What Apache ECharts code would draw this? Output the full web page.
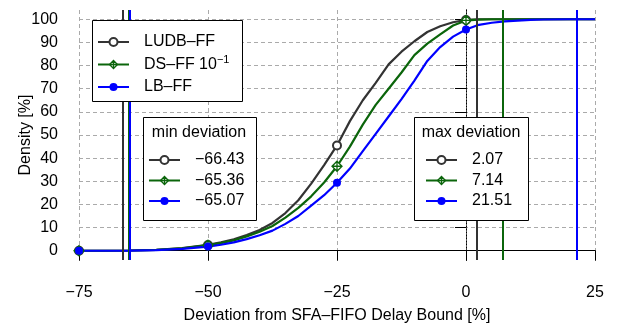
<!DOCTYPE html>
<html>
<head>
<meta charset="utf-8">
<script src="https://cdn.jsdelivr.net/npm/echarts@6/dist/echarts.min.js"></script>
<style>
  html, body { margin: 0; padding: 0; background: #fff; }
  #chart { width: 617px; height: 327px; }
</style>
</head>
<body>
<div id="chart"></div>
<script>
// deviation [%] sample points shared by the three curves
const xValues = [-75, -70, -65, -60, -55, -50, -47.5, -45, -42.5, -40, -37.5, -35, -32.5, -30, -27.5,
  -25, -22.5, -20, -17.5, -15, -12.5, -10, -7.5, -5, -2.5, 0, 2.5, 5, 7.5, 10, 12.5, 15, 20, 25];
const ludbFF = [0, 0, 0.1, 0.4, 1.1, 2.5, 3.6, 4.9, 6.8, 9.0, 12, 16.3, 21.8, 29, 37,
  45.5, 56, 65, 72.5, 80.5, 86, 90.5, 94.5, 97, 98.7, 99.7, 100, 100, 100, 100, 100, 100, 100, 100];
const dsFF = [0, 0, 0.1, 0.4, 1.0, 2.4, 3.3, 4.5, 6.2, 8.2, 10.7, 14.3, 18.5, 23.5, 29.5,
  36.5, 45, 54.5, 63, 70, 77, 84.5, 89.5, 93.5, 97.3, 99.5, 99.8, 100, 100, 100, 100, 100, 100, 100];
const lbFF = [0, 0, 0.05, 0.3, 0.8, 1.8, 2.6, 3.6, 5.0, 6.7, 8.7, 11.6, 15, 19.5, 24,
  29.4, 35.5, 43, 50.5, 58, 65.5, 73.5, 82, 88, 92.5, 95.6, 97.6, 98.5, 99.1, 99.4, 99.7, 99.9, 100, 100];
const markerX = [-75, -50, -25, 0];

const minDeviation = [-66.43, -65.36, -65.07];
const maxDeviation = [2.07, 7.14, 21.51];

const yTicks = [0, 10, 20, 30, 40, 50, 60, 70, 80, 90, 100];

const FONT = 'Liberation Sans, Arial, sans-serif';
const BLACK = '#333333';
const GREEN = '#0b650b';
const BLUE = '#0000ff';
const minus = v => String(v).replace('-', '\u2212');

const styles = [
  { name: 'LUDB–FF', values: ludbFF, color: BLACK, symbol: 'emptyCircle', size: 8,
    itemStyle: { color: BLACK } },
  { name: 'DS–FF', values: dsFF, color: GREEN,
    symbol: 'path://M10,0 L20,10 L10,20 L0,10 Z M10,0 L10,20 M0,10 L20,10', size: 10,
    itemStyle: { color: '#fff', borderColor: GREEN, borderWidth: 1.3 } },
  { name: 'LB–FF', values: lbFF, color: BLUE, symbol: 'circle', size: 8,
    itemStyle: { color: BLUE } }
];

function points(values) {
  return xValues.map((x, i) => markerX.includes(x) ? [x, values[i]] : { value: [x, values[i]], symbol: 'none' });
}

const series = [];
styles.forEach(s => {
  series.push({
    name: s.name, type: 'line', data: points(s.values),
    symbol: s.symbol, symbolSize: s.size, showAllSymbol: true,
    lineStyle: { color: s.color, width: 2.2 }, itemStyle: s.itemStyle,
    z: 3
  });
});
function vline(values, suffix) {
  values.forEach((v, i) => {
    const s = styles[i];
    series.push({
      name: minus(v.toFixed(2)) + suffix, type: 'line', data: [],
      symbol: s.symbol, symbolSize: s.size,
      lineStyle: { color: s.color, width: 2.2 }, itemStyle: s.itemStyle,
      markLine: {
        silent: true, symbol: 'none', label: { show: false },
        lineStyle: { color: s.color, type: 'solid', width: 2 },
        data: [{ xAxis: v }]
      },
      z: 2
    });
  });
}
vline(minDeviation, '');
vline(maxDeviation, ' ');

// legend entries carry the marker style explicitly (hollow diamond for DS-FF)
function legendItems(names) {
  return names.map((n, i) => ({ name: n, itemStyle: Object.assign({}, styles[i].itemStyle) }));
}

const legendBase = {
  orient: 'vertical', padding: 0, itemWidth: 31, itemHeight: 10, itemGap: 4.5,
  selectedMode: false, z: 60,
  textStyle: { fontFamily: FONT, fontSize: 16, color: '#000', lineHeight: 16, padding: [0, 0, 0, 10],
    rich: {
      t: { fontFamily: FONT, fontSize: 16, color: '#000', lineHeight: 16 },
      s: { fontFamily: FONT, fontSize: 11, color: '#000', lineHeight: 16, padding: [0, 0, 9, 0] }
    } }
};

const chart = echarts.init(document.getElementById('chart'));
chart.setOption({
  animation: false,
  textStyle: { fontFamily: FONT },
  grid: { left: 79, right: 22, top: 10, bottom: 67, outerBoundsMode: 'none', containLabel: false },
  xAxis: [{
    type: 'value', min: -75, max: 25, interval: 25,
    name: 'Deviation from SFA–FIFO Delay Bound [%]', nameLocation: 'middle', nameGap: 48,
    nameMoveOverlap: false,
    nameTextStyle: { fontFamily: FONT, fontSize: 16, color: '#000' },
    axisLine: { lineStyle: { color: '#000', width: 1 } },
    axisTick: { length: 10, lineStyle: { color: '#000' } },
    axisLabel: { fontFamily: FONT, fontSize: 16, color: '#000', margin: 25, formatter: minus },
    splitLine: { lineStyle: { color: '#aaaaaa', type: [4, 3] } }
  }, {
    type: 'value', min: -75, max: 25, position: 'top',
    axisLine: { lineStyle: { color: '#000', width: 1 } },
    axisTick: { show: false }, axisLabel: { show: false }, splitLine: { show: false }
  }],
  yAxis: [{
    type: 'value', min: -4, max: 104,
    name: 'Density [%]', nameLocation: 'middle', nameGap: 45, nameMoveOverlap: false,
    nameTextStyle: { fontFamily: FONT, fontSize: 16, color: '#000' },
    axisLine: { show: true, lineStyle: { color: '#000', type: [1, 2] } },
    axisTick: { show: true, length: 11, lineStyle: { color: '#000' }, customValues: yTicks },
    axisLabel: { fontFamily: FONT, fontSize: 16, color: '#000', margin: 21, customValues: yTicks },
    splitLine: { lineStyle: { color: '#aaaaaa', type: [4, 3] } }
  }, {
    type: 'value', min: -4, max: 104, position: 'right',
    axisLine: { show: true, lineStyle: { color: '#000', type: [1, 2] } },
    axisTick: { show: false }, axisLabel: { show: false }, splitLine: { show: false }
  }],
  legend: [
    Object.assign({}, legendBase, {
      left: 97, top: 34, data: legendItems(styles.map(s => s.name)),
      formatter: n => n === 'DS–FF' ? '{t|DS–FF 10}{s|\u22121}' : n
    }),
    Object.assign({}, legendBase, {
      left: 148, top: 152, data: legendItems(minDeviation.map(v => minus(v.toFixed(2))))
    }),
    Object.assign({}, legendBase, {
      left: 425, top: 152, data: legendItems(maxDeviation.map(v => minus(v.toFixed(2)) + ' ')),
      formatter: n => n.trim()
    })
  ],
  graphic: [
    { type: 'rect', z: 50, shape: { x: 92.5, y: 20.5, width: 150, height: 81 },
      style: { fill: '#fff', stroke: '#000', lineWidth: 1 } },
    { type: 'rect', z: 50, shape: { x: 143.5, y: 117.5, width: 113, height: 103 },
      style: { fill: '#fff', stroke: '#000', lineWidth: 1 } },
    { type: 'rect', z: 50, shape: { x: 414.5, y: 117.5, width: 114, height: 103 },
      style: { fill: '#fff', stroke: '#000', lineWidth: 1 } },
    { type: 'text', z: 55, x: 199, y: 133,
      style: { text: 'min deviation', fill: '#000', font: '16px ' + FONT, textAlign: 'center', textVerticalAlign: 'middle' } },
    { type: 'text', z: 55, x: 471, y: 133,
      style: { text: 'max deviation', fill: '#000', font: '16px ' + FONT, textAlign: 'center', textVerticalAlign: 'middle' } }
  ],
  series: series
});
</script>
</body>
</html>
